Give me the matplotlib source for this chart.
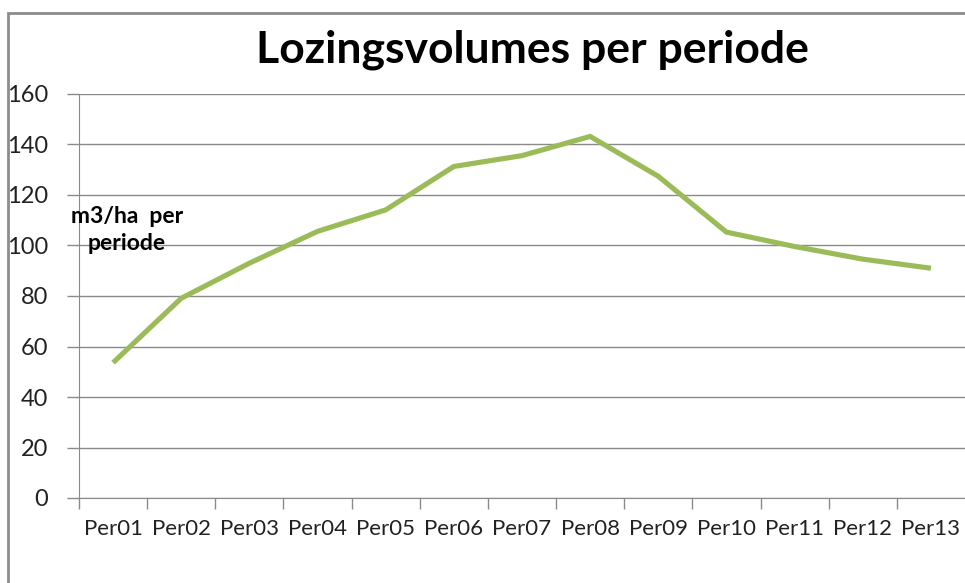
# Lozingsvolumes per periode - lijngrafiek
import matplotlib.pyplot as plt
from matplotlib.patches import Rectangle

# Data
perioden = ["Per01", "Per02", "Per03", "Per04", "Per05", "Per06", "Per07",
            "Per08", "Per09", "Per10", "Per11", "Per12", "Per13"]
volumes = [53.6, 79.1, 93.0, 105.6, 114.1, 131.3, 135.6,
           143.2, 127.4, 105.3, 99.6, 94.6, 91.0]
y_ticks = [0, 20, 40, 60, 80, 100, 120, 140, 160]

plt.rcParams['font.family'] = ['Lato', 'DejaVu Sans']

fig = plt.figure(figsize=(9.65, 5.83), dpi=100)

# Kader rond de grafiek (loopt rechts en onder buiten beeld)
kader = Rectangle((8 / 965, -0.1), 1.2, 1 - 13 / 583 + 0.1,
                  transform=fig.transFigure, fill=False,
                  edgecolor='#8c8c8c', linewidth=2)
fig.patches.append(kader)

ax = fig.add_axes([79 / 965, 85 / 583, 1 - 79 / 965, 404 / 583])

x = list(range(len(perioden)))
ax.plot(x, volumes, color='#9bbb59', linewidth=3.7, solid_capstyle='butt',
        solid_joinstyle='miter', zorder=3)

# Assen
ax.set_xlim(-0.5, len(perioden) - 0.5)
ax.set_ylim(0, 160)
ax.set_yticks(y_ticks)
ax.grid(axis='y', color='#8a8a8a', linewidth=1)
ax.set_axisbelow(True)

ax.set_xticks(x)
ax.set_xticklabels(perioden)
ax.set_xticks([i - 0.5 for i in x], minor=True)
ax.tick_params(axis='x', which='major', length=0, pad=15, labelsize=16,
               labelcolor='#222222')
ax.tick_params(axis='x', which='minor', length=8, color='#8a8a8a', width=1)
ax.tick_params(axis='y', length=9, color='#8a8a8a', width=1, pad=13,
               labelsize=17, labelcolor='#222222')

for side in ['top', 'right']:
    ax.spines[side].set_visible(False)
ax.spines['left'].set_color('#8a8a8a')
ax.spines['bottom'].set_color('#8a8a8a')

# Titels
fig.text(532 / 965, 1 - 50 / 583, "Lozingsvolumes per periode",
         ha='center', va='center', fontsize=32, fontweight='bold')
fig.text(127 / 965, 1 - 230 / 583, "m3/ha  per\nperiode",
         ha='center', va='center', fontsize=16.5, fontweight='bold',
         linespacing=1.3)

fig.savefig("out.png", dpi=100)
